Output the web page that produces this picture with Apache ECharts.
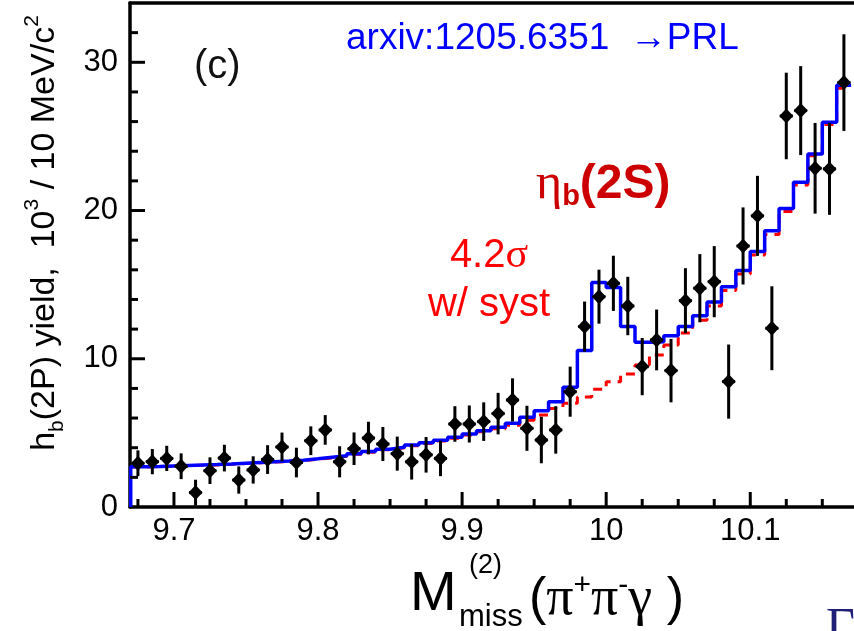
<!DOCTYPE html>
<html lang="en">
<head>
    <meta charset="utf-8">
    <title>hb(2P) yield vs missing mass</title>
    <script src="https://cdn.jsdelivr.net/npm/echarts@6/dist/echarts.min.js"></script>
    <style>
        html, body {margin: 0; padding: 0; background: #fff;}
        #chart {width: 854px; height: 631px;}
    </style>
</head>
<body>
<div id="chart"></div>
<script type="application/javascript">
    // bin centres (GeV), 10 MeV bins
    var binCentres = [9.675, 9.685, 9.695, 9.705, 9.715, 9.725, 9.735, 9.745, 9.755, 9.765,
        9.775, 9.785, 9.795, 9.805, 9.815, 9.825, 9.835, 9.845, 9.855, 9.865,
        9.875, 9.885, 9.895, 9.905, 9.915, 9.925, 9.935, 9.945, 9.955, 9.965,
        9.975, 9.985, 9.995, 10.005, 10.015, 10.025, 10.035, 10.045, 10.055, 10.065,
        10.075, 10.085, 10.095, 10.105, 10.115, 10.125, 10.135, 10.145, 10.155, 10.165];
    var binWidth = 0.01;

    // measured yield (10^3) and its error
    var yields = [2.95, 3.06, 3.28, 2.75, 0.97, 2.45, 3.3, 1.82, 2.5, 3.2,
        4.05, 3.0, 4.47, 5.2, 3.05, 3.93, 4.65, 4.25, 3.6, 3.05,
        3.52, 3.28, 5.6, 5.6, 5.76, 6.3, 7.22, 5.31, 4.52, 5.2,
        7.78, 12.17, 14.19, 15.09, 13.56, 9.47, 11.27, 9.2, 13.92, 14.76,
        15.2, 8.46, 17.61, 19.64, 12.06, 26.38, 26.74, 22.85, 22.81, 28.63];
    var yieldErrs = [0.87, 0.85, 0.85, 0.87, 0.87, 0.9, 0.9, 0.92, 0.92, 0.97,
        0.97, 1.0, 0.97, 1.0, 1.05, 1.1, 1.1, 1.15, 1.15, 1.2,
        1.2, 1.2, 1.2, 1.25, 1.3, 1.4, 1.46, 1.52, 1.57, 1.6,
        1.69, 1.69, 1.82, 1.86, 1.97, 1.93, 2.05, 2.14, 2.19, 2.3,
        2.4, 2.5, 2.6, 2.7, 2.83, 2.92, 3.0, 3.06, 3.1, 3.26];

    // fit result (blue) and background only (red dashed)
    var fitTotal = [2.72, 2.74, 2.77, 2.80, 2.83, 2.86, 2.90, 2.95, 3.00, 3.05,
        3.10, 3.16, 3.25, 3.35, 3.45, 3.60, 3.74, 3.90, 4.03, 4.18,
        4.34, 4.50, 4.70, 4.92, 5.15, 5.38, 5.65, 6.05, 6.5, 7.1,
        8.07, 10.55, 15.14, 14.8, 12.17, 11.11, 11.15, 11.56, 12.17, 12.9,
        13.83, 14.85, 15.95, 17.23, 18.63, 20.13, 21.9, 23.81, 25.95, 28.45];
    var fitBkg = [2.70, 2.72, 2.75, 2.78, 2.81, 2.84, 2.88, 2.93, 2.98, 3.03,
        3.08, 3.14, 3.22, 3.32, 3.42, 3.56, 3.70, 3.86, 3.99, 4.14,
        4.29, 4.45, 4.64, 4.85, 5.07, 5.28, 5.52, 5.85, 6.2, 6.65,
        7.0, 7.42, 7.94, 8.45, 8.97, 9.58, 10.26, 10.93, 11.74, 12.6,
        13.56, 14.6, 15.72, 17.0, 18.38, 19.93, 21.73, 23.7, 25.8, 28.25];

    // tick labels and tick positions
    var xTickLabels = [9.7, 9.8, 9.9, 10, 10.1];
    var yTickLabels = [0, 10, 20, 30];
    var xMinorTicks = [9.675, 9.725, 9.75, 9.775, 9.825, 9.85, 9.875, 9.925, 9.95, 9.975,
        10.025, 10.05, 10.075, 10.125, 10.15];
    var yMajorTicks = [10, 20, 30];
    var yMinorTicks = [2, 4, 6, 8, 12, 14, 16, 18, 22, 24, 26, 28, 32];

    var xMin = 9.6695, xMax = 10.172;
    var yMin = 0, yMax = 34;
    var majorLen = 15, minorLen = 8;

    // histogram outline: left edge of each bin, plus right edge of the last one
    function stepData(vals, fromZero) {
        var d = [];
        if (fromZero) d.push([binCentres[0] - binWidth / 2, 0]);
        for (var i = 0; i < binCentres.length; i++) {
            d.push([binCentres[i] - binWidth / 2, vals[i]]);
        }
        var n = binCentres.length - 1;
        d.push([binCentres[n] + binWidth / 2, vals[n]]);
        return d;
    }

    var points = [];
    for (var i = 0; i < binCentres.length; i++) {
        points.push([binCentres[i], yields[i], yieldErrs[i]]);
    }

    // inward ticks, placed through the axis scales: [x, y, length]
    var xTicks = [], yTicks = [];
    xTickLabels.forEach(function (v) { xTicks.push([v, yMin, majorLen]); });
    xMinorTicks.forEach(function (v) { xTicks.push([v, yMin, minorLen]); });
    yMajorTicks.forEach(function (v) { yTicks.push([xMin, v, majorLen]); });
    yMinorTicks.forEach(function (v) { yTicks.push([xMin, v, minorLen]); });

    var sans = 'Liberation Sans, Arial, sans-serif';
    var serif = 'Liberation Serif, Times New Roman, serif';

    var chart = echarts.init(document.getElementById('chart'));

    var option = {
        animation: false,
        backgroundColor: '#fff',
        grid: {left: 130, right: -6, top: 3, bottom: 124, containLabel: false},
        xAxis: [{
            type: 'value', min: xMin, max: xMax, position: 'bottom',
            axisLine: {show: true, onZero: false, lineStyle: {color: '#000', width: 3.5}},
            axisTick: {show: false},
            axisLabel: {show: true, customValues: xTickLabels, color: '#000', fontSize: 31,
                fontFamily: sans, margin: 9,
                formatter: function (v) { return String(Math.round(v * 10) / 10); }},
            splitLine: {show: false}
        }, {
            type: 'value', min: xMin, max: xMax, position: 'top',
            axisLine: {show: true, onZero: false, lineStyle: {color: '#000', width: 3.5}},
            axisTick: {show: false},
            axisLabel: {show: false},
            splitLine: {show: false}
        }],
        yAxis: {
            type: 'value', min: yMin, max: yMax, position: 'left',
            axisLine: {show: true, onZero: false, lineStyle: {color: '#000', width: 3.5}},
            axisTick: {show: false},
            axisLabel: {show: true, customValues: yTickLabels, color: '#000', fontSize: 31,
                fontFamily: sans, margin: 12},
            splitLine: {show: false}
        },
        series: [{
            name: 'background',
            type: 'line',
            step: 'end',
            data: stepData(fitBkg, false),
            showSymbol: false,
            symbol: 'none',
            clip: true,
            lineStyle: {color: '#ff0000', width: 3, type: [9, 7]},
            z: 2
        }, {
            name: 'fit',
            type: 'line',
            step: 'end',
            data: stepData(fitTotal, true),
            showSymbol: false,
            symbol: 'none',
            clip: true,
            lineStyle: {color: '#0000ff', width: 3.5},
            z: 3
        }, {
            name: 'data',
            type: 'custom',
            data: points,
            clip: true,
            z: 4,
            renderItem: function (params, api) {
                var x = api.value(0), y = api.value(1), e = api.value(2);
                var c = api.coord([x, y]);
                var lo = api.coord([x, y - e]);
                var hi = api.coord([x, y + e]);
                return {
                    type: 'group',
                    children: [{
                        type: 'line',
                        shape: {x1: c[0], y1: lo[1], x2: c[0], y2: hi[1]},
                        style: {stroke: '#000', lineWidth: 3}
                    }, {
                        type: 'line',
                        shape: {x1: c[0] - 6.5, y1: c[1], x2: c[0] + 6.5, y2: c[1]},
                        style: {stroke: '#000', lineWidth: 3}
                    }, {
                        type: 'polygon',
                        shape: {points: [[c[0], c[1] - 7.5], [c[0] + 7, c[1]], [c[0], c[1] + 7.5], [c[0] - 7, c[1]]]},
                        style: {fill: '#000'}
                    }]
                };
            }
        }, {
            name: 'x ticks',
            type: 'custom',
            data: xTicks,
            clip: false,
            silent: true,
            z: 5,
            renderItem: function (params, api) {
                var p = api.coord([api.value(0), api.value(1)]);
                return {type: 'line', shape: {x1: p[0], y1: p[1], x2: p[0], y2: p[1] - api.value(2)},
                    style: {stroke: '#000', lineWidth: 3}};
            }
        }, {
            name: 'y ticks',
            type: 'custom',
            data: yTicks,
            clip: false,
            silent: true,
            z: 5,
            renderItem: function (params, api) {
                var p = api.coord([api.value(0), api.value(1)]);
                return {type: 'line', shape: {x1: p[0], y1: p[1], x2: p[0] + api.value(2), y2: p[1]},
                    style: {stroke: '#000', lineWidth: 3}};
            }
        }],
        graphic: [{
            // y axis title
            type: 'text', x: 45, y: 233, rotation: Math.PI / 2, z: 10,
            style: {
                text: '{t|h}{sub|b}{t|(2P) yield,  10}{sup|3}{t| / 10 MeV/c}{sup|2}',
                align: 'center', verticalAlign: 'middle',
                textAlign: 'center', textVerticalAlign: 'middle',
                fill: '#000',
                rich: {
                    t: {fontSize: 34, fontFamily: sans, lineHeight: 46, verticalAlign: 'middle', fill: '#000'},
                    sup: {fontSize: 21, fontFamily: sans, lineHeight: 21, verticalAlign: 'top', fill: '#000'},
                    sub: {fontSize: 21, fontFamily: sans, lineHeight: 21, verticalAlign: 'bottom', fill: '#000'}
                }
            }
        }, {
            // x axis title
            type: 'text', x: 410, y: 595, z: 10,
            style: {text: 'M', fontSize: 56, fontFamily: sans, fill: '#000',
                align: 'left', verticalAlign: 'middle', textAlign: 'left', textVerticalAlign: 'middle'}
        }, {
            type: 'text', x: 469, y: 566, z: 10,
            style: {text: '(2)', fontSize: 27, fontFamily: sans, fill: '#000',
                align: 'left', verticalAlign: 'middle', textAlign: 'left', textVerticalAlign: 'middle'}
        }, {
            type: 'text', x: 459, y: 617, z: 10,
            style: {text: 'miss', fontSize: 31, fontFamily: sans, fill: '#000',
                align: 'left', verticalAlign: 'middle', textAlign: 'left', textVerticalAlign: 'middle'}
        }, {
            type: 'text', x: 529, y: 600, z: 10,
            style: {
                text: '{p|(}{g|π}{s|+}{g|π}{s|-}{g|γ}{q| )}',
                align: 'left', verticalAlign: 'middle', textAlign: 'left', textVerticalAlign: 'middle',
                rich: {
                    p: {fontSize: 52, fontFamily: sans, lineHeight: 58, verticalAlign: 'middle', fill: '#000'},
                    q: {fontSize: 52, fontFamily: sans, lineHeight: 58, verticalAlign: 'middle', fill: '#000'},
                    g: {fontSize: 54, fontFamily: serif, lineHeight: 58, verticalAlign: 'middle', fill: '#000'},
                    s: {fontSize: 30, fontFamily: sans, lineHeight: 32, verticalAlign: 'top', fill: '#000'}
                }
            }
        }, {
            type: 'text', x: 826, y: 604, z: 10,
            style: {text: 'Γ(', fontSize: 50, fontFamily: serif, fill: '#1f1f78',
                align: 'left', verticalAlign: 'top', textAlign: 'left', textVerticalAlign: 'top'}
        }, {
            type: 'text', x: 194, y: 67, z: 10,
            style: {text: '(c)', fontSize: 40, fontFamily: sans, fill: '#111',
                align: 'left', verticalAlign: 'middle', textAlign: 'left', textVerticalAlign: 'middle'}
        }, {
            type: 'text', x: 346, y: 39, z: 10,
            style: {text: 'arxiv:1205.6351  \u2192PRL', fontSize: 37, fontFamily: sans, fill: '#0000ff',
                align: 'left', verticalAlign: 'middle', textAlign: 'left', textVerticalAlign: 'middle'}
        }, {
            type: 'text', x: 536, y: 185, z: 10,
            style: {
                text: '{e|η}{b|b}{m|(2S)}',
                align: 'left', verticalAlign: 'middle', textAlign: 'left', textVerticalAlign: 'middle',
                rich: {
                    e: {fontSize: 50, fontFamily: serif, lineHeight: 52, verticalAlign: 'middle', fill: '#cc0000'},
                    b: {fontSize: 29, fontFamily: sans, fontWeight: 'bold', lineHeight: 29, verticalAlign: 'bottom', fill: '#cc0000'},
                    m: {fontSize: 48, fontFamily: sans, fontWeight: 'bold', lineHeight: 52, verticalAlign: 'middle', fill: '#cc0000'}
                }
            }
        }, {
            type: 'text', x: 489, y: 256, z: 10,
            style: {
                text: '{n|4.2}{g|σ}',
                align: 'center', verticalAlign: 'middle', textAlign: 'center', textVerticalAlign: 'middle',
                rich: {
                    n: {fontSize: 40, fontFamily: sans, lineHeight: 46, verticalAlign: 'middle', fill: '#ff0000'},
                    g: {fontSize: 42, fontFamily: serif, lineHeight: 46, verticalAlign: 'middle', fill: '#ff0000'}
                }
            }
        }, {
            type: 'text', x: 489, y: 305, z: 10,
            style: {text: 'w/ syst', fontSize: 40, fontFamily: sans, fill: '#ff0000',
                align: 'center', verticalAlign: 'middle', textAlign: 'center', textVerticalAlign: 'middle'}
        }]
    };

    chart.setOption(option);
</script>
</body>
</html>
